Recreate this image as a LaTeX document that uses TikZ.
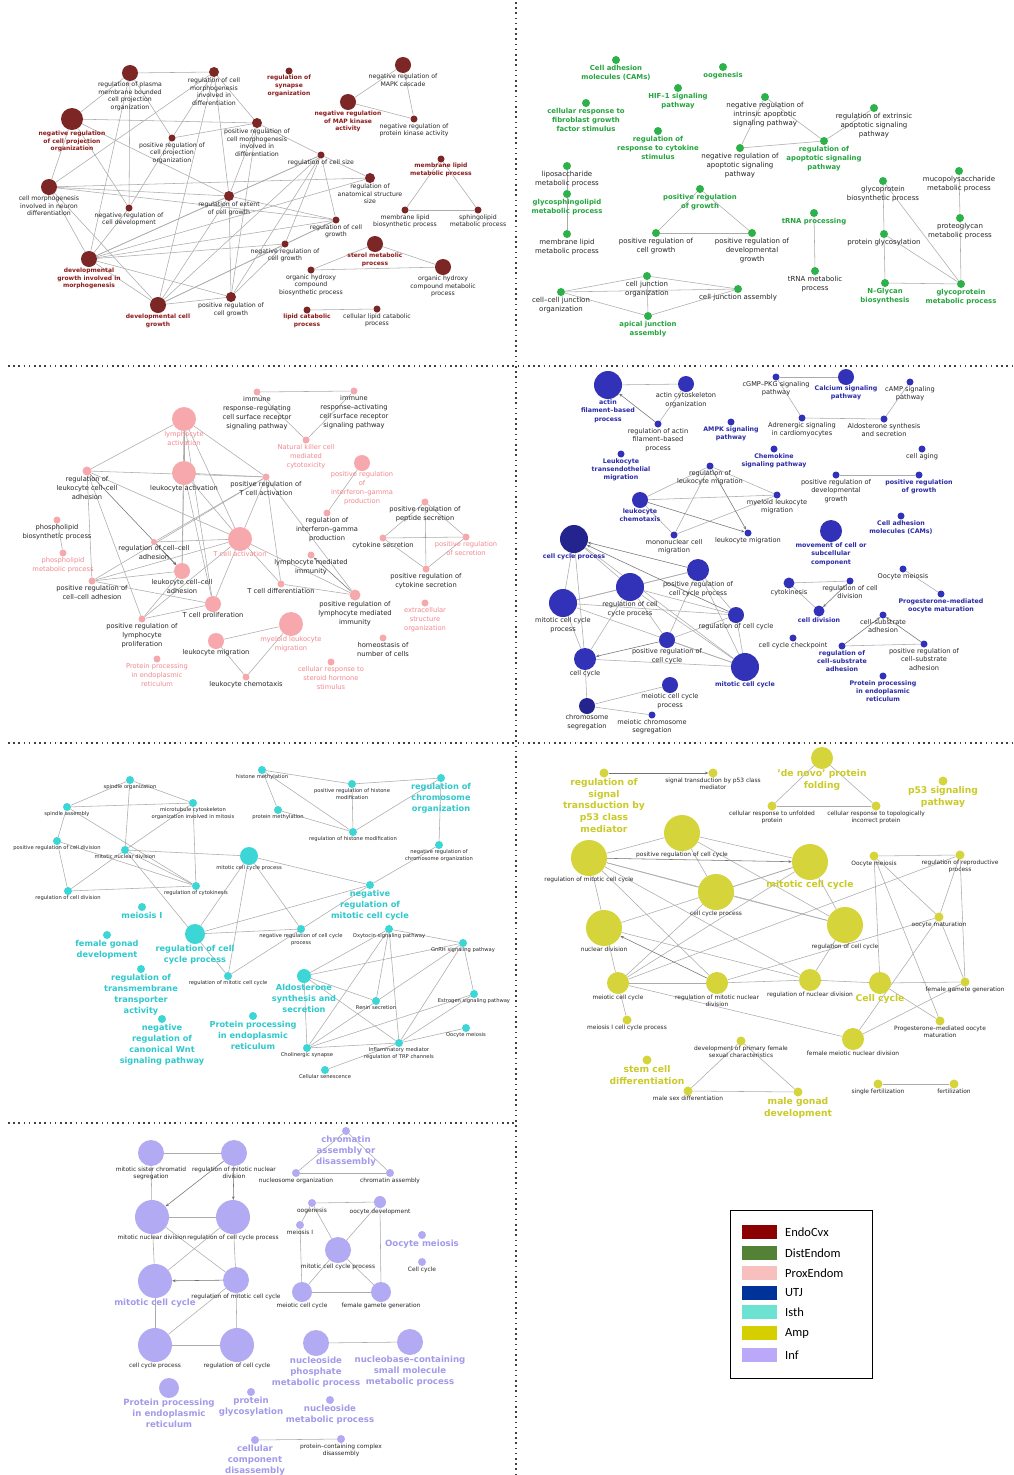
\documentclass[tikz,border=0pt]{standalone}
\usepackage{fontspec}
\setmainfont{DejaVu Sans}
\newfontfamily\legfont{Carlito}
\usetikzlibrary{arrows.meta,backgrounds}
\definecolor{rA}{HTML}{7D2626}\definecolor{rAt}{HTML}{8E1B1B}
\definecolor{gA}{HTML}{2DB14A}\definecolor{gAt}{HTML}{25A43E}
\definecolor{pA}{HTML}{F7A8AD}\definecolor{pAt}{HTML}{F28890}
\definecolor{uA}{HTML}{3232B9}\definecolor{uAd}{HTML}{24248E}\definecolor{uAt}{HTML}{2A2AA6}
\definecolor{cA}{HTML}{3DD6D6}\definecolor{cAt}{HTML}{2EC9CC}
\definecolor{yA}{HTML}{D5D53B}\definecolor{yAt}{HTML}{CACA28}
\definecolor{vA}{HTML}{B2AAF2}\definecolor{vAt}{HTML}{A29AEA}
\definecolor{Lone}{HTML}{8B0000}\definecolor{Ltwo}{HTML}{538135}\definecolor{Lthree}{HTML}{F8BFBF}
\definecolor{Lfour}{HTML}{003399}\definecolor{Lfive}{HTML}{6DE2D2}\definecolor{Lsix}{HTML}{D6CF00}\definecolor{Lseven}{HTML}{BBA8F8}
\tikzset{
 gn/.style={circle,inner sep=0pt,draw=none},
 lab/.style={anchor=north,align=center,inner sep=0.4pt},
 edge/.style={draw=black!33,line width=0.55pt},
 arr/.style={-{Stealth[length=3.4pt,width=2.8pt]},draw=black!55},
 sep/.style={draw=black!75,line width=1.6pt,dash pattern=on 1.6pt off 3.6pt},
 kA/.style={font=\fontsize{6.2}{7.7}\selectfont,text=black!85},
 tA/.style={font=\bfseries\fontsize{6.0}{7.7}\selectfont,text=rAt},
 kB/.style={font=\fontsize{7.0}{9}\selectfont,text=black!85},
 tB/.style={font=\bfseries\fontsize{6.9}{9}\selectfont,text=gAt},
 kC/.style={font=\fontsize{6.7}{9}\selectfont,text=black!85},
 tC/.style={font=\fontsize{6.7}{9}\selectfont,text=pAt},
 kD/.style={font=\fontsize{6.6}{8.4}\selectfont,text=black!85},
 tD/.style={font=\bfseries\fontsize{6.3}{8.4}\selectfont,text=uAt},
 kE/.style={font=\fontsize{5.2}{7}\selectfont,text=black!85},
 tE/.style={font=\bfseries\fontsize{8.2}{11}\selectfont,text=cAt},
 kF/.style={font=\fontsize{5.9}{7}\selectfont,text=black!85},
 tF/.style={font=\bfseries\fontsize{9.2}{11.7}\selectfont,text=yAt},
 kG/.style={font=\fontsize{5.9}{7}\selectfont,text=black!85},
 tG/.style={font=\bfseries\fontsize{8.6}{11}\selectfont,text=vAt},
 sw/.style={draw=none,minimum width=35pt,minimum height=14pt,inner sep=0pt},
 lt/.style={anchor=west,inner sep=0pt,font=\legfont\fontsize{12.5}{14}\selectfont},
}
\newcommand\N[7]{\node[gn,minimum size=#4pt,fill=#5] (#1) at (#2,#3) {};\node[lab,#6] at (#1.south) {#7};}
\begin{document}
\begin{tikzpicture}[x=1pt,y=-1pt]
\useasboundingbox (0,0) rectangle (1013,1475);
% ---------------- Panel 1 EndoCvx
\N{aA}{130}{73}{16}{rA}{kA}{regulation of plasma\\membrane bounded\\cell projection\\organization}
\N{aB}{214}{72}{10}{rA}{kA}{regulation of cell\\morphogenesis\\involved in\\differentiation}
\N{aC}{72}{119}{22}{rA}{tA}{negative regulation\\of cell projection\\organization}
\N{aD}{172}{138}{7}{rA}{kA}{positive regulation of\\cell projection\\organization}
\N{aE}{257}{123}{10}{rA}{kA}{positive regulation of\\cell morphogenesis\\involved in\\differentiation}
\N{aF}{49}{187}{16}{rA}{kA}{cell morphogenesis\\involved in neuron\\differentiation}
\N{aG}{129}{208}{7}{rA}{kA}{negative regulation of\\cell development}
\N{aH}{229}{196}{10}{rA}{kA}{regulation of extent\\of cell growth}
\N{aI}{89}{259}{16}{rA}{tA}{developmental\\growth involved in\\morphogenesis}
\N{aJ}{158}{305}{16}{rA}{tA}{developmental cell\\growth}
\N{aK}{231}{297}{10}{rA}{kA}{positive regulation of\\cell growth}
\N{aL}{289}{71}{7}{rA}{tA}{regulation of\\synapse\\organization}
\N{aM}{403}{65}{16}{rA}{kA}{negative regulation of\\MAPK cascade}
\N{aN}{348}{102}{16}{rA}{tA}{negative regulation\\of MAP kinase\\activity}
\N{aO}{414}{119}{7}{rA}{kA}{negative regulation of\\protein kinase activity}
\N{aP}{321}{155}{7}{rA}{kA}{regulation of cell size}
\N{aQ}{370}{178}{10}{rA}{kA}{regulation of\\anatomical structure\\size}
\N{aR}{441}{159}{7}{rA}{tA}{membrane lipid\\metabolic process}
\N{aS}{405}{210}{7}{rA}{kA}{membrane lipid\\biosynthetic process}
\N{aT}{478}{210}{7}{rA}{kA}{sphingolipid\\metabolic process}
\N{aU}{336}{220}{7}{rA}{kA}{regulation of cell\\growth}
\N{aV}{285}{244}{7}{rA}{kA}{negative regulation of\\cell growth}
\N{aW}{375}{244}{16}{rA}{tA}{sterol metabolic\\process}
\N{aX}{311}{270}{7}{rA}{kA}{organic hydroxy\\compound\\biosynthetic process}
\N{aY}{443}{267}{16}{rA}{kA}{organic hydroxy\\compound metabolic\\process}
\N{aZ}{307}{310}{7}{rA}{tA}{lipid catabolic\\process}
\N{aAA}{377}{309}{7}{rA}{kA}{cellular lipid catabolic\\process}
% ---------------- Panel 2 DistEndom
\N{bCAM}{616}{60}{8}{gA}{tB}{Cell adhesion\\molecules (CAMs)}
\N{bOog}{723}{67}{8}{gA}{tB}{oogenesis}
\N{bHIF}{678}{88}{8}{gA}{tB}{HIF–1 signaling\\pathway}
\N{bFGF}{586}{103}{8}{gA}{tB}{cellular response to\\fibroblast growth\\factor stimulus}
\N{bCyt}{658}{131}{8}{gA}{tB}{regulation of\\response to cytokine\\stimulus}
\N{bNIA}{765}{97}{8}{gA}{kB}{negative regulation of\\intrinsic apoptotic\\signaling pathway}
\N{bNA}{740}{148}{8}{gA}{kB}{negative regulation of\\apoptotic signaling\\pathway}
\N{bREA}{874}{108}{8}{gA}{kB}{regulation of extrinsic\\apoptotic signaling\\pathway}
\N{bRA}{824}{141}{8}{gA}{tB}{regulation of\\apoptotic signaling\\pathway}
\N{bLipo}{567}{166}{8}{gA}{kB}{liposaccharide\\metabolic process}
\N{bGly}{567}{194}{8}{gA}{tB}{glycosphingolipid\\metabolic process}
\N{bMem}{567}{234}{8}{gA}{kB}{membrane lipid\\metabolic process}
\N{bPRG}{700}{189}{8}{gA}{tB}{positive regulation\\of growth}
\N{bPCG}{656}{233}{8}{gA}{kB}{positive regulation of\\cell growth}
\N{bPDG}{752}{233}{8}{gA}{kB}{positive regulation of\\developmental\\growth}
\N{bCJO}{647}{276}{8}{gA}{kB}{cell junction\\organization}
\N{bCC}{561}{292}{8}{gA}{kB}{cell–cell junction\\organization}
\N{bCJA}{738}{289}{8}{gA}{kB}{cell junction assembly}
\N{bAJ}{648}{316}{8}{gA}{tB}{apical junction\\assembly}
\N{btRNAp}{814}{213}{8}{gA}{tB}{tRNA processing}
\N{btRNAm}{815}{271}{8}{gA}{kB}{tRNA metabolic\\process}
\N{bGBP}{883}{181}{8}{gA}{kB}{glycoprotein\\biosynthetic process}
\N{bMuco}{959}{171}{8}{gA}{kB}{mucopolysaccharide\\metabolic process}
\N{bProt}{960}{218}{8}{gA}{kB}{proteoglycan\\metabolic process}
\N{bPG}{884}{234}{8}{gA}{kB}{protein glycosylation}
\N{bNG}{885}{283}{8}{gA}{tB}{N–Glycan\\biosynthesis}
\N{bGMP}{961}{284}{8}{gA}{tB}{glycoprotein\\metabolic process}
% ---------------- Panel 3 ProxEndom
\N{cIRR}{257}{392}{7}{pA}{kC}{immune\\response–regulating\\cell surface receptor\\signaling pathway}
\N{cIRA}{354}{391}{7}{pA}{kC}{immune\\response–activating\\cell surface receptor\\signaling pathway}
\N{cNK}{306}{440}{7}{pA}{tC}{Natural killer cell\\mediated\\cytotoxicity}
\N{cLA}{184}{419}{24}{pA}{tC}{lymphocyte\\activation}
\N{cIFN}{362}{463}{16}{pA}{tC}{positive regulation\\of\\interferon–gamma\\production}
\N{cRIFN}{327}{513}{7}{pA}{kC}{regulation of\\interferon–gamma\\production}
\N{cLeA}{184}{473}{24}{pA}{kC}{leukocyte activation}
\N{cRLCC}{87}{471}{9}{pA}{kC}{regulation of\\leukocyte cell–cell\\adhesion}
\N{cPRTA}{266}{477}{7}{pA}{kC}{positive regulation of\\T cell activation}
\N{cPLB}{57}{520}{7}{pA}{kC}{phospholipid\\biosynthetic process}
\N{cPLM}{63}{553}{7}{pA}{tC}{phospholipid\\metabolic process}
\N{cRCC}{154}{542}{6}{pA}{kC}{regulation of cell–cell\\adhesion}
\N{cTA}{240}{539}{24}{pA}{tC}{T cell activation}
\N{cLCC}{182}{571}{16}{pA}{kC}{leukocyte cell–cell\\adhesion}
\N{cPRCC}{92}{581}{7}{pA}{kC}{positive regulation of\\cell–cell adhesion}
\N{cTP}{213}{604}{16}{pA}{kC}{T cell proliferation}
\N{cPRLP}{142}{619}{7}{pA}{kC}{positive regulation of\\lymphocyte\\proliferation}
\N{cLM}{216}{641}{16}{pA}{kC}{leukocyte migration}
\N{cPP}{157}{659}{7}{pA}{tC}{Protein processing\\in endoplasmic\\reticulum}
\N{cLC}{246}{677}{7}{pA}{kC}{leukocyte chemotaxis}
\N{cMLM}{291}{624}{24}{pA}{tC}{myeloid leukocyte\\migration}
\N{cTD}{281}{584}{7}{pA}{kC}{T cell differentiation}
\N{cLMI}{311}{555}{7}{pA}{kC}{lymphocyte mediated\\immunity}
\N{cPLMI}{355}{595}{11}{pA}{kC}{positive regulation of\\lymphocyte mediated\\immunity}
\N{cPPS}{425}{502}{7}{pA}{kC}{positive regulation of\\peptide secretion}
\N{cCS}{383}{538}{7}{pA}{kC}{cytokine secretion}
\N{cPS}{466}{537}{7}{pA}{tC}{positive regulation\\of secretion}
\N{cPCS}{426}{569}{7}{pA}{kC}{positive regulation of\\cytokine secretion}
\N{cECM}{425}{603}{7}{pA}{tC}{extracellular\\structure\\organization}
\N{cHom}{383}{638}{7}{pA}{kC}{homeostasis of\\number of cells}
\N{cSter}{331}{662}{7}{pA}{tC}{cellular response to\\steroid hormone\\stimulus}
% ---------------- Panel 4 UTJ
\N{dAFB}{608}{385}{28}{uA}{tD}{actin\\filament–based\\process}
\N{dACO}{686}{384}{16}{uA}{kD}{actin cytoskeleton\\organization}
\N{dRAF}{658}{424}{7}{uA}{kD}{regulation of actin\\filament–based\\process}
\N{dAMPK}{731}{422}{7}{uA}{tD}{AMPK signaling\\pathway}
\N{dLTM}{621}{454}{7}{uA}{tD}{Leukocyte\\transendothelial\\migration}
\N{dRLM}{710}{466}{7}{uA}{kD}{regulation of\\leukocyte migration}
\N{dLCh}{640}{500}{16}{uA}{tD}{leukocyte\\chemotaxis}
\N{dMLM}{777}{495}{7}{uA}{kD}{myeloid leukocyte\\migration}
\N{dMCM}{674}{535}{7}{uA}{kD}{mononuclear cell\\migration}
\N{dLM}{748}{533}{7}{uA}{kD}{leukocyte migration}
\N{dCCP}{574}{539}{28}{uAd}{tD}{cell cycle process}
\N{dPRCCP}{698}{570}{22}{uA}{kD}{positive regulation of\\cell cycle process}
\N{dRCCP}{630}{587}{28}{uA}{kD}{regulation of cell\\cycle process}
\N{dMCCP}{563}{603}{28}{uA}{kD}{mitotic cell cycle\\process}
\N{dRCC}{736}{615}{16}{uA}{kD}{regulation of cell cycle}
\N{dPRCC}{667}{640}{16}{uA}{kD}{positive regulation of\\cell cycle}
\N{dCC}{585}{659}{22}{uA}{kD}{cell cycle}
\N{dMCC}{745}{667}{28}{uA}{tD}{mitotic cell cycle}
\N{dMeCCP}{670}{685}{16}{uA}{kD}{meiotic cell cycle\\process}
\N{dCS}{587}{706}{16}{uAd}{kD}{chromosome\\segregation}
\N{dMCS}{652}{715}{7}{uA}{kD}{meiotic chromosome\\segregation}
\N{dcGMP}{776}{377}{7}{uA}{kD}{cGMP–PKG signaling\\pathway}
\N{dCa}{846}{377}{16}{uA}{tD}{Calcium signaling\\pathway}
\N{dcAMP}{910}{382}{7}{uA}{kD}{cAMP signaling\\pathway}
\N{dAdr}{802}{418}{7}{uA}{kD}{Adrenergic signaling\\in cardiomyocytes}
\N{dAld}{884}{419}{7}{uA}{kD}{Aldosterone synthesis\\and secretion}
\N{dChe}{774}{449}{7}{uA}{tD}{Chemokine\\signaling pathway}
\N{dAge}{922}{449}{7}{uA}{kD}{cell aging}
\N{dPDG}{836}{475}{7}{uA}{kD}{positive regulation of\\developmental\\growth}
\N{dPG}{919}{475}{7}{uA}{tD}{positive regulation\\of growth}
\N{dMov}{831}{531}{22}{uA}{tD}{movement of cell or\\subcellular\\component}
\N{dCAM}{901}{516}{7}{uA}{tD}{Cell adhesion\\molecules (CAMs)}
\N{dOM}{903}{569}{7}{uA}{kD}{Oocyte meiosis}
\N{dPOM}{941}{594}{7}{uA}{tD}{Progesterone–mediated\\oocyte maturation}
\N{dCyk}{789}{583}{11}{uA}{kD}{cytokinesis}
\N{dRCD}{850}{581}{7}{uA}{kD}{regulation of cell\\division}
\N{dCD}{819}{611}{11}{uA}{tD}{cell division}
\N{dCSA}{883}{615}{7}{uA}{kD}{cell–substrate\\adhesion}
\N{dRCSA}{842}{646}{7}{uA}{tD}{regulation of\\cell–substrate\\adhesion}
\N{dPRCSA}{924}{644}{7}{uA}{kD}{positive regulation of\\cell–substrate\\adhesion}
\N{dCCC}{793}{638}{7}{uA}{kD}{cell cycle checkpoint}
\N{dPPE}{883}{676}{7}{uA}{tD}{Protein processing\\in endoplasmic\\reticulum}
% ---------------- Panel 5 Isth
\N{eSO}{130}{780}{8}{cA}{kE}{spindle organization}
\N{eSA}{67}{807}{8}{cA}{kE}{spindle assembly}
\N{eMT}{193}{803}{8}{cA}{kE}{microtubule cytoskeleton\\organization involved in mitosis}
\N{ePRCD}{57}{841}{8}{cA}{kE}{positive regulation of cell division}
\N{eMND}{125}{850}{8}{cA}{kE}{mitotic nuclear division}
\N{eRCD}{68}{891}{8}{cA}{kE}{regulation of cell division}
\N{eRCyk}{196}{886}{8}{cA}{kE}{regulation of cytokinesis}
\N{eMCCP}{249}{856}{18}{cA}{kE}{mitotic cell cycle process}
\N{eMeI}{142}{907}{8}{cA}{tE}{meiosis I}
\N{eFGD}{107}{935}{8}{cA}{tE}{female gonad\\development}
\N{eRCCP}{195}{934}{20}{cA}{tE}{regulation of cell\\cycle process}
\N{eRMCC}{228}{976}{8}{cA}{kE}{regulation of mitotic cell cycle}
\N{eRTT}{141}{969}{8}{cA}{tE}{regulation of\\transmembrane\\transporter\\activity}
\N{eWnt}{162}{1019}{8}{cA}{tE}{negative\\regulation of\\canonical Wnt\\signaling pathway}
\N{ePPE}{253}{1016}{8}{cA}{tE}{Protein processing\\in endoplasmic\\reticulum}
\N{eHM}{262}{770}{8}{cA}{kE}{histone methylation}
\N{ePRHM}{352}{784}{8}{cA}{kE}{positive regulation of histone\\modification}
\N{ePM}{278}{810}{8}{cA}{kE}{protein methylation}
\N{eRHM}{353}{832}{8}{cA}{kE}{regulation of histone modification}
\N{eRCO}{441}{778}{8}{cA}{tE}{regulation of\\chromosome\\organization}
\N{eNRCO}{439}{845}{8}{cA}{kE}{negative regulation of\\chromosome organization}
\N{eNRMCC}{370}{885}{8}{cA}{tE}{negative\\regulation of\\mitotic cell cycle}
\N{eNRCCP}{301}{929}{8}{cA}{kE}{negative regulation of cell cycle\\process}
\N{eOxy}{389}{929}{8}{cA}{kE}{Oxytocin signaling pathway}
\N{eGnRH}{463}{943}{8}{cA}{kE}{GnRH signaling pathway}
\N{eAld}{304}{976}{14}{cA}{tE}{Aldosterone\\synthesis and\\secretion}
\N{eRen}{376}{1001}{8}{cA}{kE}{Renin secretion}
\N{eEst}{474}{994}{8}{cA}{kE}{Estrogen signaling pathway}
\N{eOM}{466}{1028}{8}{cA}{kE}{Oocyte meiosis}
\N{eCho}{307}{1048}{8}{cA}{kE}{Cholinergic synapse}
\N{eInf}{399}{1043}{8}{cA}{kE}{Inflammatory mediator\\regulation of TRP channels}
\N{eSen}{325}{1070}{8}{cA}{kE}{Cellular senescence}
% ---------------- Panel 6 Amp
\N{fRP}{604}{773}{9}{yA}{tF}{regulation of\\signal\\transduction by\\p53 class\\mediator}
\N{fST}{713}{773}{9}{yA}{kF}{signal transduction by p53 class\\mediator}
\N{fPRCC}{682}{833}{36}{yA}{kF}{positive regulation of cell cycle}
\N{fRMCC}{589}{858}{36}{yA}{kF}{regulation of mitotic cell cycle}
\N{fCCP}{716}{892}{36}{yA}{kF}{cell cycle process}
\N{fND}{604}{928}{36}{yA}{kF}{nuclear division}
\N{fMeCC}{618}{983}{22}{yA}{kF}{meiotic cell cycle}
\N{fRMND}{717}{983}{22}{yA}{kF}{regulation of mitotic nuclear\\division}
\N{fMI}{627}{1020}{9}{yA}{kF}{meiosis I cell cycle process}
\N{fDPF}{741}{1041}{9}{yA}{kF}{development of primary female\\sexual characteristics}
\N{fSCD}{647}{1060}{9}{yA}{tF}{stem cell\\differentiation}
\N{fMSD}{688}{1091}{9}{yA}{kF}{male sex differentiation}
\N{fDN}{822}{758}{22}{yA}{tF}{'de novo' protein\\folding}
\N{fUP}{772}{806}{9}{yA}{kF}{cellular response to unfolded\\protein}
\N{fTIP}{876}{806}{9}{yA}{kF}{cellular response to topologically\\incorrect protein}
\N{fP}{943}{781}{9}{yA}{tF}{p53 signaling\\pathway}
\N{fMCC}{810}{862}{36}{yA}{tF}{mitotic cell cycle}
\N{fRCC}{845}{925}{36}{yA}{kF}{regulation of cell cycle}
\N{fOM}{874}{856}{9}{yA}{kF}{Oocyte meiosis}
\N{fRRP}{960}{855}{9}{yA}{kF}{regulation of reproductive\\process}
\N{fOMat}{939}{917}{9}{yA}{kF}{oocyte maturation}
\N{fRND}{810}{980}{22}{yA}{kF}{regulation of nuclear division}
\N{fCC}{880}{983}{22}{yA}{tF}{Cell cycle}
\N{fFGG}{965}{982}{9}{yA}{kF}{female gamete generation}
\N{fPOM}{940}{1021}{9}{yA}{kF}{Progesterone–mediated oocyte\\maturation}
\N{fFMND}{853}{1039}{22}{yA}{kF}{female meiotic nuclear division}
\N{fMGD}{798}{1092}{9}{yA}{tF}{male gonad\\development}
\N{fSF}{878}{1084}{9}{yA}{kF}{single fertilization}
\N{fF}{954}{1084}{9}{yA}{kF}{fertilization}
% ---------------- Panel 7 Inf
\N{gMSC}{151}{1153}{26}{vA}{kG}{mitotic sister chromatid\\segregation}
\N{gRMND}{234}{1153}{26}{vA}{kG}{regulation of mitotic nuclear\\division}
\N{gMND}{152}{1217}{34}{vA}{kG}{mitotic nuclear division}
\N{gRCCP}{233}{1217}{34}{vA}{kG}{regulation of cell cycle process}
\N{gMCC}{155}{1281}{34}{vA}{tG}{mitotic cell cycle}
\N{gRMCC}{236}{1280}{26}{vA}{kG}{regulation of mitotic cell cycle}
\N{gCCP}{155}{1345}{34}{vA}{kG}{cell cycle process}
\N{gRCC}{237}{1345}{34}{vA}{kG}{regulation of cell cycle}
\N{gPPE}{169}{1388}{20}{vA}{tG}{Protein processing\\in endoplasmic\\reticulum}
\N{gPG}{251}{1392}{8}{vA}{tG}{protein\\glycosylation}
\N{gCAD}{346}{1131}{8}{vA}{tG}{chromatin\\assembly or\\disassembly}
\N{gNO}{296}{1173}{8}{vA}{kG}{nucleosome organization}
\N{gCA}{390}{1173}{8}{vA}{kG}{chromatin assembly}
\N{gOog}{312}{1203}{8}{vA}{kG}{oogenesis}
\N{gOD}{380}{1202}{12}{vA}{kG}{oocyte development}
\N{gMI}{300}{1225}{8}{vA}{kG}{meiosis I}
\N{gMCCP}{338}{1250}{26}{vA}{kG}{mitotic cell cycle process}
\N{gOM}{422}{1235}{8}{vA}{tG}{Oocyte meiosis}
\N{gCC}{422}{1262}{8}{vA}{kG}{Cell cycle}
\N{gMeCC}{302}{1292}{20}{vA}{kG}{meiotic cell cycle}
\N{gFGG}{381}{1292}{20}{vA}{kG}{female gamete generation}
\N{gNP}{316}{1343}{26}{vA}{tG}{nucleoside\\phosphate\\metabolic process}
\N{gNB}{410}{1342}{26}{vA}{tG}{nucleobase–containing\\small molecule\\metabolic process}
\N{gNM}{330}{1400}{8}{vA}{tG}{nucleoside\\metabolic process}
\N{gCCD}{255}{1440}{8}{vA}{tG}{cellular\\component\\disassembly}
\N{gPCD}{341}{1439}{8}{vA}{kG}{protein–containing complex\\disassembly}
% ---------------- Legend
\draw[line width=0.9pt] (730,1210) rectangle (872,1378);
\node[sw,fill=Lone] (l1) at (759,1232) {};\node[lt] (t1) at (785,1232) {EndoCvx};
\node[sw,fill=Ltwo] (l2) at (759,1253) {};\node[lt] (t2) at (785,1253) {DistEndom};
\node[sw,fill=Lthree] (l3) at (759,1273) {};\node[lt] (t3) at (785,1273) {ProxEndom};
\node[sw,fill=Lfour] (l4) at (759,1293) {};\node[lt] (t4) at (785,1293) {UTJ};
\node[sw,fill=Lfive] (l5) at (759,1312) {};\node[lt] (t5) at (785,1312) {Isth};
\node[sw,fill=Lsix] (l6) at (759,1333) {};\node[lt] (t6) at (785,1333) {Amp};
\node[sw,fill=Lseven] (l7) at (759,1355) {};\node[lt] (t7) at (785,1355) {Inf};
% ---------------- edges
\begin{pgfonlayer}{background}
\fill[white] (0,0) rectangle (1013,1475);
\draw[sep] (516,2) -- (516,1475);
\draw[sep] (8,366) -- (1013,366);
\draw[sep] (8,743) -- (1013,743);
\draw[sep] (8,1123) -- (516,1123);
\foreach \a/\b in {aA/aB,aA/aC,aA/aD,aA/aG,aA/aI,aB/aD,aB/aE,aB/aH,aB/aF,aB/aJ,aC/aF,aC/aG,aC/aE,aC/aH,aD/aE,aD/aG,aE/aH,aE/aK,aE/aP,aF/aI,aF/aJ,aF/aH,aF/aQ,aG/aI,aH/aI,aH/aJ,aH/aK,aH/aP,aH/aU,aI/aJ,aI/aP,aI/aU,aI/aV,aI/aK,aJ/aK,aJ/aP,aJ/aU,aJ/aV,aK/aP,aK/aV,aP/aQ,aP/aU,aP/aV,aU/aV,aQ/aI,aU/aF,aM/aN,aM/aO,aN/aO,aR/aS,aR/aT,aS/aT,aW/aX,aW/aY,aX/aY,aZ/aAA}
 \draw[edge] (\a) -- (\b);
\foreach \a/\b in {bNIA/bRA,bNIA/bNA,bNA/bRA,bREA/bRA,bLipo/bGly,bGly/bMem,bPRG/bPCG,bPRG/bPDG,bPCG/bPDG,bCC/bCJO,bCC/bCJA,bCC/bAJ,bCJO/bCJA,bCJO/bAJ,bCJA/bAJ,btRNAp/btRNAm,bGBP/bPG,bPG/bNG,bGBP/bGMP,bPG/bGMP,bNG/bGMP,bMuco/bProt,bProt/bGMP}
 \draw[edge] (\a) -- (\b);
\foreach \a/\b in {cIRR/cIRA,cIRR/cNK,cIRA/cNK,cIFN/cRIFN,cPLB/cPLM,cPPS/cCS,cPPS/cPS,cPPS/cPCS,cCS/cPS,cCS/cPCS,cPS/cPCS,cLM/cMLM,cLM/cLC,cLC/cMLM,cLA/cLeA,cLA/cRLCC,cLA/cPRTA,cLA/cTA,cLA/cLCC,cLA/cTP,cLeA/cTA,cLeA/cLCC,cLeA/cTP,cRLCC/cPRTA,cRLCC/cTA,cRLCC/cPRCC,cRLCC/cPRLP,cRCC/cTA,cRCC/cPRTA,cPRCC/cTA,cPRCC/cLCC,cPRCC/cTP,cPRCC/cPRTA,cPRLP/cTP,cPRLP/cLCC,cPRLP/cTA,cTA/cTP,cTA/cTD,cTA/cPRTA,cPRTA/cTD,cPRTA/cPLMI,cTD/cPLMI,cTA/cPLMI,cLeA/cPRTA}
 \draw[edge] (\a) -- (\b);
\foreach \a/\b in {cRLCC/cLCC,cRCC/cLCC,cPLMI/cLMI}
 \draw[edge,arr] (\a) -- (\b);
\foreach \a/\b in {dAFB/dACO,dRAF/dACO,dRLM/dLCh,dRLM/dMCM,dRLM/dMLM,dLCh/dMLM,dLCh/dMCM,dMCM/dMLM,dCCP/dMCCP,dCCP/dCC,dCCP/dRCCP,dMCC/dCCP,dMCCP/dRCCP,dMCCP/dRCC,dMCCP/dMCC,dMCCP/dCC,dRCCP/dPRCCP,dRCCP/dRCC,dRCCP/dPRCC,dRCCP/dMCC,dRCCP/dCC,dPRCCP/dPRCC,dPRCCP/dRCC,dPRCCP/dMCC,dRCC/dPRCC,dRCC/dMCC,dPRCC/dMCC,dCC/dMCC,dCC/dCS,dCS/dMeCCP,dCS/dMCS,dMCCP/dPRCCP,dcGMP/dCa,dcGMP/dAdr,dAdr/dAld,dAld/dcAMP,dPDG/dPG,dOM/dPOM,dCyk/dRCD,dCyk/dCD,dRCSA/dPRCSA}
 \draw[edge] (\a) -- (\b);
\foreach \a/\b in {dRAF/dAFB,dRLM/dLM,dLCh/dLM,dPRCCP/dCCP,dRCC/dCCP,dPRCC/dCC,dRCD/dCD,dRCSA/dCSA,dPRCSA/dCSA}
 \draw[edge,arr] (\a) -- (\b);
\foreach \a/\b in {eSO/eSA,eSO/eMT,eSO/eMND,eSA/eMT,eSA/ePRCD,eSA/eRCyk,ePRCD/eRCD,ePRCD/eRCyk,eMND/eRCD,eMND/eMT,eMND/eRCyk,eMND/eMCCP,eMND/eRMCC,eRCD/eRCyk,eMT/eRCyk,eMCCP/eRCCP,eMCCP/eRMCC,eMCCP/eNRMCC,eMCCP/eNRCCP,eRCCP/eNRMCC,eRCCP/eNRCCP,eRMCC/eNRMCC,eNRMCC/eNRCO,eNRCO/eRCO,eRCO/ePRHM,eRCO/eRHM,eHM/ePRHM,eHM/ePM,eHM/eRHM,ePM/eRHM,ePRHM/eRHM,eOxy/eGnRH,eOxy/eAld,eOxy/eRen,eOxy/eCho,eOxy/eInf,eGnRH/eAld,eGnRH/eEst,eGnRH/eCho,eGnRH/eInf,eAld/eRen,eAld/eCho,eAld/eInf,eEst/eCho,eEst/eInf,eOM/eInf,eCho/eInf,eSen/eInf}
 \draw[edge] (\a) -- (\b);
\foreach \a/\b in {fDN/fUP,fDN/fTIP,fUP/fTIP,fPRCC/fRMCC,fPRCC/fCCP,fPRCC/fMCC,fPRCC/fRCC,fRMCC/fCCP,fRMCC/fRMND,fRMCC/fMeCC,fRMCC/fRCC,fRMCC/fRND,fND/fMCC,fRND/fND,fMeCC/fMI,fMeCC/fRMND,fMeCC/fCCP,fMeCC/fMCC,fMeCC/fFMND,fMeCC/fRRP,fRMND/fRND,fRMND/fOMat,fCCP/fMCC,fCCP/fRCC,fMCC/fRCC,fRCC/fRND,fRND/fCC,fOM/fRRP,fOM/fOMat,fOM/fPOM,fOM/fCC,fRRP/fOMat,fRRP/fFGG,fOMat/fFGG,fOMat/fFMND,fFGG/fFMND,fFGG/fCC,fCC/fPOM,fDPF/fMSD,fDPF/fMGD,fMSD/fMGD,fSF/fF}
 \draw[edge] (\a) -- (\b);
\foreach \a/\b in {fRP/fST,fRMCC/fMCC,fRMND/fND}
 \draw[edge,arr] (\a) -- (\b);
\foreach \a/\b in {gMSC/gRMND,gMSC/gMND,gMND/gRCCP,gMND/gMCC,gRCCP/gRMCC,gMCC/gCCP,gRMCC/gRCC,gCCP/gRCC,gMND/gRMCC,gRCCP/gMCC,gRMCC/gCCP,gCAD/gNO,gCAD/gCA,gNO/gCA,gOog/gOD,gOog/gMI,gOog/gMCCP,gOD/gFGG,gOD/gMCCP,gMI/gMeCC,gMCCP/gMeCC,gMCCP/gFGG,gMeCC/gFGG,gNP/gNB,gCCD/gPCD}
 \draw[edge] (\a) -- (\b);
\foreach \a/\b in {gRMCC/gMCC,gRMND/gMND,gRMND/gRCCP}
 \draw[edge,arr] (\a) -- (\b);
\end{pgfonlayer}
\end{tikzpicture}
\end{document}
